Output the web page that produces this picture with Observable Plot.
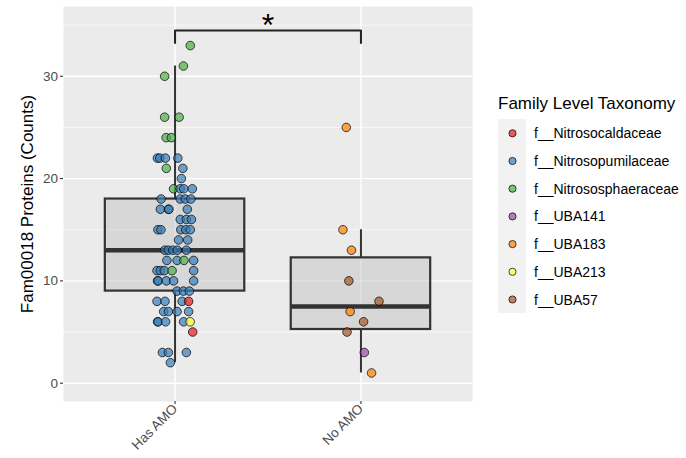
<!DOCTYPE html>
<html><head><meta charset="utf-8">
<script src="https://cdn.jsdelivr.net/npm/d3@7"></script>
<script src="https://cdn.jsdelivr.net/npm/@observablehq/plot@0.6"></script>
<style>
body{margin:0;background:#fff;}
#chart{position:relative;width:686px;height:458px;}
</style>
</head><body><div id="chart"></div>
<script>
const groups = ["Has AMO", "No AMO"];
const families = ["f__Nitrosocaldaceae","f__Nitrosopumilaceae","f__Nitrososphaeraceae","f__UBA141","f__UBA183","f__UBA213","f__UBA57"];
const familyColors = ["#E41A1C","#377EB8","#4DAF4A","#984EA3","#FF7F00","#FFFF33","#A65628"];

// Has AMO genomes: protein counts, family index, horizontal jitter (category units)
const hasCounts = [33,31,30,26,26,24,24,22,22,22,22,21,21,20,19,19,19,19,18,18,18,18,17,17,17,17,16,16,16,15,15,15,15,15,14,14,13,13,13,13,13,12,12,12,12,11,11,11,11,11,10,10,10,10,10,9,9,9,8,8,8,8,7,7,7,7,6,6,6,6,6,5,3,3,3,2];
const hasFamily = [2,2,2,2,2,2,2,1,1,1,1,2,1,1,2,1,1,1,1,1,1,1,1,1,1,1,1,1,1,1,1,1,1,1,1,1,1,1,1,1,1,1,1,2,1,1,1,1,2,1,1,1,1,1,1,1,1,1,1,1,1,0,1,1,1,1,1,1,1,1,5,0,1,1,1,1];
const hasJitter = [0.082,0.045,-0.056,-0.056,0.022,-0.048,-0.020,-0.095,-0.082,-0.052,0.015,-0.047,0.042,0.034,-0.008,0.028,0.047,0.093,-0.075,0.028,0.055,0.085,-0.079,-0.036,-0.033,0.066,0.028,0.061,0.088,-0.092,-0.076,0.031,0.058,0.082,0.019,0.068,-0.055,-0.036,-0.012,0.012,0.061,-0.044,0.011,0.048,0.100,-0.097,-0.079,-0.058,-0.016,0.100,-0.094,-0.091,-0.047,-0.008,0.100,0.011,0.045,0.077,-0.097,-0.054,0.038,0.073,-0.061,-0.036,0.011,0.073,-0.094,-0.091,-0.051,0.046,0.081,0.095,-0.068,-0.036,0.061,-0.025];

// No AMO genomes
const noCounts = [25,15,13,10,8,7,6,5,3,1];
const noFamily = [4,4,4,6,6,4,6,6,3,4];
const noJitter = [-0.079,-0.097,-0.051,-0.065,0.097,-0.058,0.014,-0.075,0.018,0.057];

const yMajor = [0,10,20,30];
const yMinor = [5,15,25,35];
const sigLabel = "*";
const sigTop = 34.48, sigTip = 33.25;
const yTitle = "Fam00018 Proteins (Counts)";
const legendTitle = "Family Level Taxonomy";

const points = [];
hasCounts.forEach((c,k)=>points.push({g:0, count:c, family:families[hasFamily[k]], jit:hasJitter[k]}));
noCounts.forEach((c,k)=>points.push({g:1, count:c, family:families[noFamily[k]], jit:noJitter[k]}));

const stats = groups.map((name,i)=>{
  const v = points.filter(p=>p.g===i).map(p=>p.count).sort((a,b)=>a-b);
  const q1 = d3.quantile(v,0.25), med = d3.quantile(v,0.5), q3 = d3.quantile(v,0.75);
  const iqr = q3-q1;
  const lo = d3.min(v.filter(x=>x>=q1-1.5*iqr));
  const hi = d3.max(v.filter(x=>x<=q3+1.5*iqr));
  return {i, q1, med, q3, lo, hi};
});

const font = "'Liberation Sans', Arial, Helvetica, sans-serif";
const plot = Plot.plot({
  width: 686, height: 458,
  marginLeft: 63, marginRight: 214, marginTop: 6, marginBottom: 57,
  style: {fontFamily: font, background: "#ffffff", overflow: "visible"},
  x: {type: "linear", domain: [-0.6, 1.6], axis: null},
  y: {domain: [-1.79, 36.82], axis: null},
  color: {domain: families, range: familyColors},
  marks: [
    Plot.frame({fill: "#ebebeb", stroke: "none"}),
    Plot.ruleY(yMinor, {stroke: "#ffffff", strokeWidth: 0.7}),
    Plot.ruleY(yMajor, {stroke: "#ffffff", strokeWidth: 1.4}),
    Plot.ruleX([0,1], {stroke: "#ffffff", strokeWidth: 1.4}),
    Plot.axisY(yMajor, {anchor: "left", tickSize: 3, tickPadding: 2.5, stroke: "#333333", strokeWidth: 1.1, fill: "#4d4d4d", fontSize: 13.5, label: null, tickFormat: d => String(d)}),
    Plot.axisX([0,1], {anchor: "bottom", tickSize: 3, tickPadding: 2, tickRotate: -45, stroke: "#333333", strokeWidth: 1.1, fill: "#4d4d4d", fontSize: 13.5, label: null, tickFormat: i => groups[i]}),
    Plot.text([yTitle], {frameAnchor: "left", dx: -36, rotate: -90, textAnchor: "middle", fontSize: 17, fill: "#000000", text: d => d}),
    Plot.ruleX(stats, {x: "i", y1: "q3", y2: "hi", stroke: "#333333", strokeWidth: 2}),
    Plot.ruleX(stats, {x: "i", y1: "lo", y2: "q1", stroke: "#333333", strokeWidth: 2}),
    Plot.rect(stats, {x1: d => d.i - 0.375, x2: d => d.i + 0.375, y1: "q1", y2: "q3", fill: "#bebebe", fillOpacity: 0.45, stroke: "#333333", strokeWidth: 2.2}),
    Plot.ruleY(stats, {y: "med", x1: d => d.i - 0.375, x2: d => d.i + 0.375, stroke: "#333333", strokeWidth: 4.5}),
    Plot.dot(points, {x: d => d.g + d.jit, y: "count", fill: "family", fillOpacity: 0.7, stroke: "#000000", strokeOpacity: 0.7, strokeWidth: 1, r: 4.3}),
    Plot.line([{x:0,y:sigTip},{x:0,y:sigTop},{x:1,y:sigTop},{x:1,y:sigTip}], {x: "x", y: "y", stroke: "#222222", strokeWidth: 2}),
    Plot.text([sigLabel], {x: () => 0.5, y: () => sigTop, text: d => d, fontSize: 32, lineAnchor: "bottom", dy: 6, fill: "#000000"})
  ]
});
document.getElementById("chart").appendChild(plot);

// Legend (ggplot style, right side)
const color = plot.scale("color");
const svg = d3.select(plot);
const lg = svg.append("g").attr("font-family", font).attr("text-anchor", "start");
lg.append("text").attr("x", 498).attr("y", 109).attr("font-size", 17).attr("fill", "#000").attr("text-anchor", "start").text(legendTitle);
lg.append("rect").attr("x", 498).attr("y", 119).attr("width", 28).attr("height", 194).attr("fill", "#f2f2f2");
families.forEach((f,k)=>{
  const cy = 133.3 + k*27.7;
  lg.append("circle").attr("cx", 512.5).attr("cy", cy).attr("r", 3.6)
    .attr("fill", color.apply(f)).attr("fill-opacity", 0.7)
    .attr("stroke", "#000").attr("stroke-opacity", 0.7).attr("stroke-width", 1);
  lg.append("text").attr("x", 534).attr("y", cy).attr("dy", "0.36em").attr("font-size", 14).attr("fill", "#000").attr("text-anchor", "start").text(f);
});
</script>
</body></html>
